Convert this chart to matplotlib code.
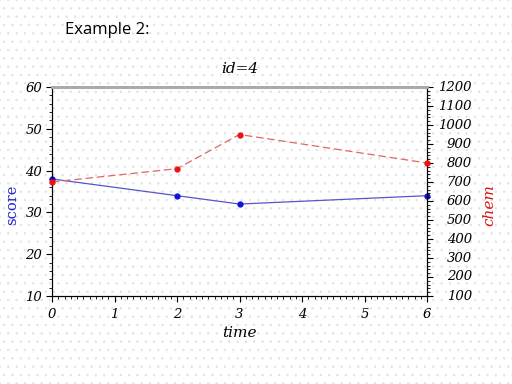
import matplotlib
matplotlib.use("Agg")
import matplotlib.pyplot as plt
from matplotlib.patches import Rectangle
from matplotlib.ticker import MultipleLocator, NullFormatter

time = [0, 2, 3, 6]
score = [38, 34, 32, 34]
chem = [700, 770, 950, 800]
chem_ticks = list(range(100, 1300, 100))

plt.rcParams["hatch.linewidth"] = 0.5
plt.rcParams["font.family"] = "DejaVu Serif"
plt.rcParams["font.style"] = "italic"

fig = plt.figure(figsize=(5.12, 3.84), dpi=100)
bg = Rectangle((0, 0), 1, 1, transform=fig.transFigure, facecolor="white",
               edgecolor="#e2e2e2", hatch="..", linewidth=0, zorder=-10)
fig.patches.append(bg)

ax = fig.add_axes([52 / 512, 1 - 296 / 384, 375 / 512, 209 / 384])
ax.patch.set_alpha(0)
ax2 = ax.twinx()

ax.plot(time, score, color="#5555cc", lw=0.9, marker="o", ms=3.5,
        mfc="#1010e0", mec="#1010e0", clip_on=False, zorder=3)
ax2.plot(time, chem, color="#dd6666", lw=0.9, ls=(0, (6, 3)), marker="o", ms=3.5,
         mfc="#ee1111", mec="#ee1111", clip_on=False, zorder=3)

ax.set_xlim(0, 6)
ax.set_ylim(10, 60)
ax2.set_ylim(100, 1200)
ax.xaxis.set_major_locator(MultipleLocator(1))
ax.xaxis.set_minor_locator(MultipleLocator(0.1))
ax.yaxis.set_major_locator(MultipleLocator(10))
ax.yaxis.set_minor_locator(MultipleLocator(2))
ax2.set_yticks(chem_ticks)
ax2.yaxis.set_major_formatter(NullFormatter())
ax2.yaxis.set_minor_locator(MultipleLocator(20))

for a in (ax, ax2):
    a.tick_params(which="major", length=4, width=0.8, labelsize=9.5, pad=3)
    a.tick_params(which="minor", length=2, width=0.6)
    a.spines["top"].set_color("#aaaaaa")
    a.spines["top"].set_linewidth(2)
ax.tick_params(axis="x", which="major", pad=5)

# right axis labels are right-aligned, well away from the spine
for v in chem_ticks:
    ax2.text(1.12, v, str(v), transform=ax2.get_yaxis_transform(),
             ha="right", va="center", fontsize=9.5, clip_on=False)

ax.set_xlabel("time", fontsize=11, labelpad=3)
ax.set_title("id=4", fontsize=11, pad=10)
fig.text(12 / 512, 1 - 205 / 384, "score", fontsize=10.5, color="#2222cc",
         style="normal", rotation=90, ha="center", va="center")
fig.text(489 / 512, 1 - 205 / 384, "chem", fontsize=11, color="#dd1111",
         rotation=90, ha="center", va="center")

fig.text(65 / 512, 1 - 30 / 384, "Example 2:", fontsize=12, family="Open Sans",
         style="normal", va="center", ha="left")

fig.savefig("out.png", dpi=100)
